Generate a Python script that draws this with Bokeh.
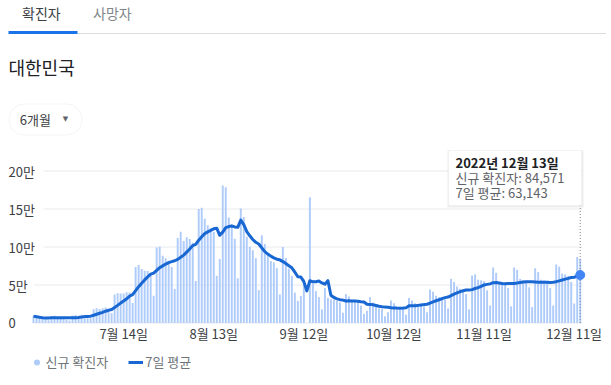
import numpy as np
import pandas as pd
from bokeh.plotting import figure
from bokeh.models import Range1d, Label, BoxAnnotation, Legend, LegendItem
from bokeh.embed import file_html
from bokeh.resources import INLINE

# ---------------- data ----------------
start_date = "2022-06-14"

new_cases = [
    9435, 7995, 7206, 6068, 5022, 3530, 9305, 9591, 7498, 7227,
    6240, 4423, 3423, 9896, 10463, 9528, 10715, 10059, 6253, 6252,
    18147, 19371, 18511, 19323, 20286, 15253, 12693, 37360, 39196, 38882,
    38691, 40342, 40266, 26299, 73582, 76402, 71170, 68632, 68551, 65433,
    35883, 99327, 100285, 88384, 85320, 82002, 73589, 44689, 111789, 119922,
    107894, 112901, 110666, 105507, 55292, 149897, 151792, 137241, 128714, 124592,
    119603, 62078, 84128, 180803, 178574, 138812, 129411, 110700, 59046, 150802,
    139339, 113371, 100166, 95598, 85295, 43125, 115616, 103961, 90853, 81573,
    79733, 72138, 37597, 99837, 85540, 71476, 62000, 40000, 29000, 35500,
    57309, 0, 165425, 51874, 42000, 34000, 18000, 46000, 33000, 31000,
    31000, 29000, 27000, 13500, 38000, 35000, 29600, 29600, 27000, 23000,
    12000, 16000, 34000, 27000, 23000, 19000, 18500, 9000, 14000, 29600,
    26000, 21000, 18500, 19000, 11000, 33000, 29600, 26000, 25000, 23000,
    22000, 14000, 44000, 41000, 36000, 34000, 34000, 31000, 19000, 58000,
    54000, 48000, 45000, 42000, 38000, 18000, 62500, 64000, 57000, 56000,
    55000, 43000, 23000, 73000, 66000, 53000, 52000, 52000, 46000, 22000,
    73000, 70000, 58000, 56000, 55000, 47000, 21000, 72000, 67000, 57000,
    56000, 55000, 46000, 23000, 77000, 74000, 65000, 64000, 62000, 53911,
    25667, 86852, 84571,
]

avg7 = [
    8800, 8200, 7500, 7000, 6700, 6600, 6900, 7000, 6900, 6900,
    6900, 6800, 6800, 6900, 7000, 7300, 7800, 8400, 8600, 9000,
    10200, 11500, 12800, 14000, 15500, 16700, 17700, 20400, 23200, 26200,
    28900, 31800, 35400, 37300, 42500, 47800, 52400, 56700, 60700, 64300,
    65700, 69300, 72800, 75200, 77600, 79500, 80700, 81900, 83700, 86500,
    89300, 93300, 97400, 101900, 103400, 108900, 113400, 117600, 119900, 121900,
    123900, 124800, 115400, 119600, 125500, 126900, 127600, 126400, 125900, 135400,
    129500, 120200, 114700, 109900, 106200, 104000, 98900, 93900, 90700, 88000,
    85700, 83900, 83100, 80800, 78200, 75400, 72600, 66900, 60800, 60500,
    54400, 42200, 55600, 54200, 54400, 55200, 52700, 51000, 55800, 36600,
    33600, 31700, 30700, 30100, 28900, 29200, 29000, 28800, 28500, 28000,
    27700, 24600, 24500, 24100, 23100, 22000, 21400, 20900, 20600, 20000,
    19900, 19600, 19500, 19600, 19900, 22600, 22600, 22600, 23200, 23800,
    24200, 24700, 26200, 27900, 29300, 30600, 32100, 33400, 34100, 36100,
    38000, 39700, 41300, 42400, 43400, 43300, 43900, 45400, 46600, 48200,
    50100, 50800, 51500, 53000, 53300, 52700, 52100, 51700, 52100, 52000,
    52000, 52600, 53300, 53900, 54300, 54400, 54300, 54100, 53700, 53600,
    53600, 53600, 53400, 53700, 54400, 55400, 56600, 57700, 58700, 59800,
    60200, 61600, 63143,
]

tick_dates = ["2022-07-14", "2022-08-13", "2022-09-12", "2022-10-12", "2022-11-11", "2022-12-11"]
tick_labels = ["7월 14일", "8월 13일", "9월 12일", "10월 12일", "11월 11일", "12월 11일"]
y_ticks = [0, 50000, 100000, 150000, 200000]
y_tick_labels = ["0", "5만", "10만", "15만", "20만"]
tab_labels = ["확진자", "사망자"]
region_name = "대한민국"
period_label = "6개월"
series_names = ["신규 확진자", "7일 평균"]

# ---------------- styling / geometry ----------------
KR = "Noto Sans CJK KR"
BAR_COLOR = "#aecbfa"
LINE_COLOR = "#1967d2"
POINT_COLOR = "#4285f4"
GRID_COLOR = "#e8eaed"
TEXT_DARK = "#202124"
TEXT_MID = "#3c4043"
TEXT_GREY = "#5f6368"
TEXT_LIGHT = "#80868b"

W, H = 606, 380          # canvas size (canvas sits at the page's top-left)
PAGE = 0
X0 = 33.0                # page x of first day
PX_DAY = 3.004           # pixels per day
Y0 = 322.5               # page y of zero
PX_CASE = 38 / 50000     # pixels per case


def X(px):
    return (px - X0) / PX_DAY


def Y(py):
    return (Y0 - py) / PX_CASE


dates = pd.date_range(start_date, periods=len(new_cases), freq="D")
day = np.arange(len(new_cases))
tick_idx = [(pd.Timestamp(d) - dates[0]).days for d in tick_dates]

p = figure(width=W, height=H,
           x_range=Range1d(X(PAGE), X(PAGE + W)),
           y_range=Range1d(Y(PAGE + H), Y(PAGE)),
           x_axis_type=None, y_axis_type=None,
           toolbar_location=None, output_backend="svg",
           min_border=0, outline_line_color=None,
           background_fill_color="white", border_fill_color="white")


def text(x, y, s, size="13px", color=TEXT_MID, align="left", style="normal", font=KR):
    p.add_layout(Label(x=x, y=y, text=s, text_font=font, text_font_size=size,
                       text_color=color, text_align=align, text_baseline="middle",
                       text_font_style=style))


# ---- header: tabs, title, period selector ----
p.add_layout(BoxAnnotation(left=X(77), right=X(PAGE + W), top=Y(32.5), bottom=Y(33.5),
                           fill_color="#dadce0", fill_alpha=1, line_color=None))
p.add_layout(BoxAnnotation(left=X(8), right=X(77), top=Y(30.5), bottom=Y(33.5),
                           fill_color="#1a73e8", fill_alpha=1, line_color=None))
text(X(21.5), Y(12.5), tab_labels[0], size="14px", color=TEXT_MID)
text(X(92.5), Y(12.5), tab_labels[1], size="14px", color=TEXT_LIGHT)
text(X(8), Y(66.5), region_name, size="18px", color=TEXT_DARK)

p.add_layout(BoxAnnotation(left=X(8.5), right=X(81.5), top=Y(103.5), bottom=Y(134.5),
                           fill_color="white", fill_alpha=1, line_color="#dadce0",
                           line_width=1, border_radius=15))
text(X(19.3), Y(119.2), period_label, size="13px", color=TEXT_MID)
text(X(65), Y(118.8), "▼", size="7px", color=TEXT_GREY, align="center", font="DejaVu Sans")

# ---- grid lines ----
grid_start = [X(32), X(34), X(43), X(43), X(43)]
p.segment(x0=grid_start, y0=y_ticks, x1=[X(582)] * len(y_ticks), y1=y_ticks,
          line_color=GRID_COLOR, line_width=1)

# ---- data ----
p.vbar(x=day, top=new_cases, bottom=0, width=0.64, fill_color=BAR_COLOR, line_color=None)

p.segment(x0=[day[-1]], y0=[0], x1=[day[-1]], y1=[Y(160)],
          line_color="#888888", line_width=1, line_dash="1 2")

line_r = p.line(day, avg7, line_width=3, line_color=LINE_COLOR, line_join="round")
p.scatter([day[-1]], [avg7[-1]], size=9, fill_color=POINT_COLOR, line_color=POINT_COLOR)

legend_dot = p.scatter(day, new_cases, size=6, fill_color=BAR_COLOR, line_color=None,
                       visible=False)

# ---- y tick labels ----
for v, s in zip(y_ticks, y_tick_labels):
    text(X(8), v, s, size="13px", color=TEXT_MID)

# ---- x tick labels ----
for t, s in zip(tick_idx, tick_labels):
    text(t, Y(332.5), s, size="13px", color=TEXT_MID, align="center")

# ---- tooltip ----
last = dates[-1]
p.add_layout(BoxAnnotation(left=X(447), right=X(583), top=Y(150), bottom=Y(207),
                           fill_color="black", fill_alpha=0.07, line_color=None))
p.add_layout(BoxAnnotation(left=X(448), right=X(581), top=Y(150), bottom=Y(205),
                           fill_color="white", fill_alpha=1, line_color="#e3e3e3",
                           line_width=1))
text(X(455), Y(161.7), f"{last.year}년 {last.month}월 {last.day}일",
     size="13px", color=TEXT_DARK, style="bold")
text(X(455), Y(176.7), f"{series_names[0]}: {new_cases[-1]:,}", size="13px", color=TEXT_GREY)
text(X(455), Y(191.6), f"{series_names[1]}: {avg7[-1]:,}", size="13px", color=TEXT_GREY)

# ---- legend ----
legend = Legend(items=[LegendItem(label=series_names[0], renderers=[legend_dot]),
                       LegendItem(label=series_names[1], renderers=[line_r])],
                location=(28.5, H - 371.3), orientation="horizontal",
                padding=0, margin=0, spacing=20, label_standoff=2,
                glyph_width=15, glyph_height=16, label_height=16,
                label_text_font=KR, label_text_font_size="13px",
                label_text_color="#70757a", border_line_color=None,
                background_fill_alpha=0)
p.add_layout(legend)

open("out.html", "w").write(file_html(p, INLINE))
